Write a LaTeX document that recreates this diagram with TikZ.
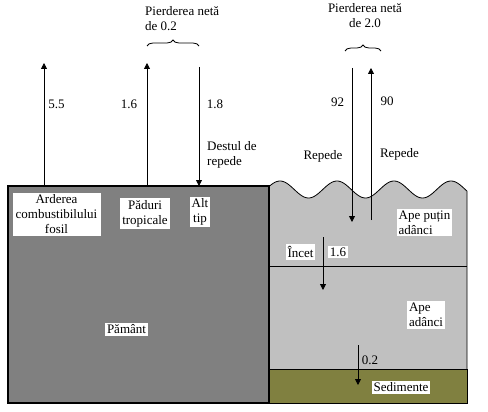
\documentclass[tikz,border=0pt]{standalone}
\usepackage{fontspec}
\setmainfont{Liberation Serif}
\usepackage{tikz}
\usetikzlibrary{arrows.meta}
\usetikzlibrary{decorations.pathreplacing}
\usetikzlibrary{positioning}
\definecolor{landgray}{RGB}{128,128,128}
\definecolor{watergray}{RGB}{192,192,192}
\definecolor{sedolive}{RGB}{128,128,64}
\tikzset{
  lbl/.style={font=\fontsize{13}{15}\selectfont, inner sep=0pt},
  whitebox/.style={lbl, fill=white, inner sep=2pt, align=center},
  flux/.style={-{Triangle[length=6pt,width=6pt]}, line width=0.8pt},
  netbrace/.style={decorate, decoration={brace, amplitude=6pt}, line width=0.8pt}
}

\begin{document}
\begin{tikzpicture}[x=1pt, y=-1pt]

        \useasboundingbox (0,0) rectangle (488,412);

        % ocean with waves on top
        \draw [fill=watergray, line width=0.8pt] (268,403)
            -- plot [domain=268:467, samples=120] (\x, {189.5-8.5*cos(6.3158*(\x-280))})
            -- (467,403) -- cycle;
        \draw [fill=sedolive, line width=0.8pt] (268,369) rectangle (467,403);
        \draw [line width=0.8pt] (268,266) -- (467,266);

        % land
        \draw [fill=landgray, line width=1.8pt] (8,186) rectangle (269,403);

        % land labels
        \node [whitebox, text width=84pt] (fossil) at (56.5,214.5) {Arderea\\combustibilului\\fosil};

        \node [whitebox] (forest) at (145,213.5) {Păduri\\tropicale};

        \node [whitebox] (other) at (200,212) {Alt\\tip};

        \node [whitebox] (land) at (126.5,329.5) {Pământ};

        % ocean labels
        \node [whitebox, align=left] (shallow) at (424.5,222.5) {Ape puțin\\adânci};

        \node [whitebox] (slow) at (300.5,252) {Încet};

        \node [whitebox] (slowval) at (338,252) {1.6};

        \node [whitebox, align=left] (deep) at (426,315) {Ape\\adânci};

        \node [whitebox] (sediment) at (401,387.5) {Sedimente};

        % arrow ends
        \coordinate (fossilbot) at (44,186);
        \coordinate (fossiltop) at (44,63);
        \coordinate (forestbot) at (147,186);
        \coordinate (foresttop) at (147,63);
        \coordinate (othertop) at (199,67);
        \coordinate (otherbot) at (199,186);
        \coordinate (downtop) at (352,68);
        \coordinate (downbot) at (352,222);
        \coordinate (upbot) at (371,220);
        \coordinate (uptop) at (371,68);
        \coordinate (slowtop) at (323,237);
        \coordinate (slowbot) at (323,290);
        \coordinate (sedtop) at (358,345);
        \coordinate (sedbot) at (358,385);

        % fluxes
        \draw [flux] (fossilbot) -- (fossiltop);
        \draw [flux] (forestbot) -- (foresttop);
        \draw [flux] (othertop) -- (otherbot);
        \draw [flux] (downtop) -- (downbot);
        \draw [flux] (upbot) -- (uptop);
        \draw [flux] (slowtop) -- (slowbot);
        \draw [flux] (sedtop) -- (sedbot);

        \node [lbl] (v55) at (56.5,104) {5.5};
        \node [lbl] (v16) at (129,104) {1.6};
        \node [lbl] (v18) at (215,104) {1.8};
        \node [lbl] (v92) at (337.5,102) {92};
        \node [lbl] (v90) at (387,101) {90};
        \node [lbl] (v02) at (370,360) {0.2};

        \node [lbl, align=left, anchor=west] (fast) at (207,154.5) {Destul de\\repede};
        \node [lbl] (fastl) at (323,156) {Repede};
        \node [lbl] (fastr) at (399.5,154) {Repede};

        % net losses
        \draw [netbrace] (147,46) -- (199,46);
        \node [lbl, align=left, anchor=west] (net02) at (145,18.5) {Pierderea netă\\de 0.2};

        \draw [netbrace] (345,51) -- (381,51);
        \node [lbl, align=center] (net20) at (365,16) {Pierderea netă\\de 2.0};

    \end{tikzpicture}
\end{document}
